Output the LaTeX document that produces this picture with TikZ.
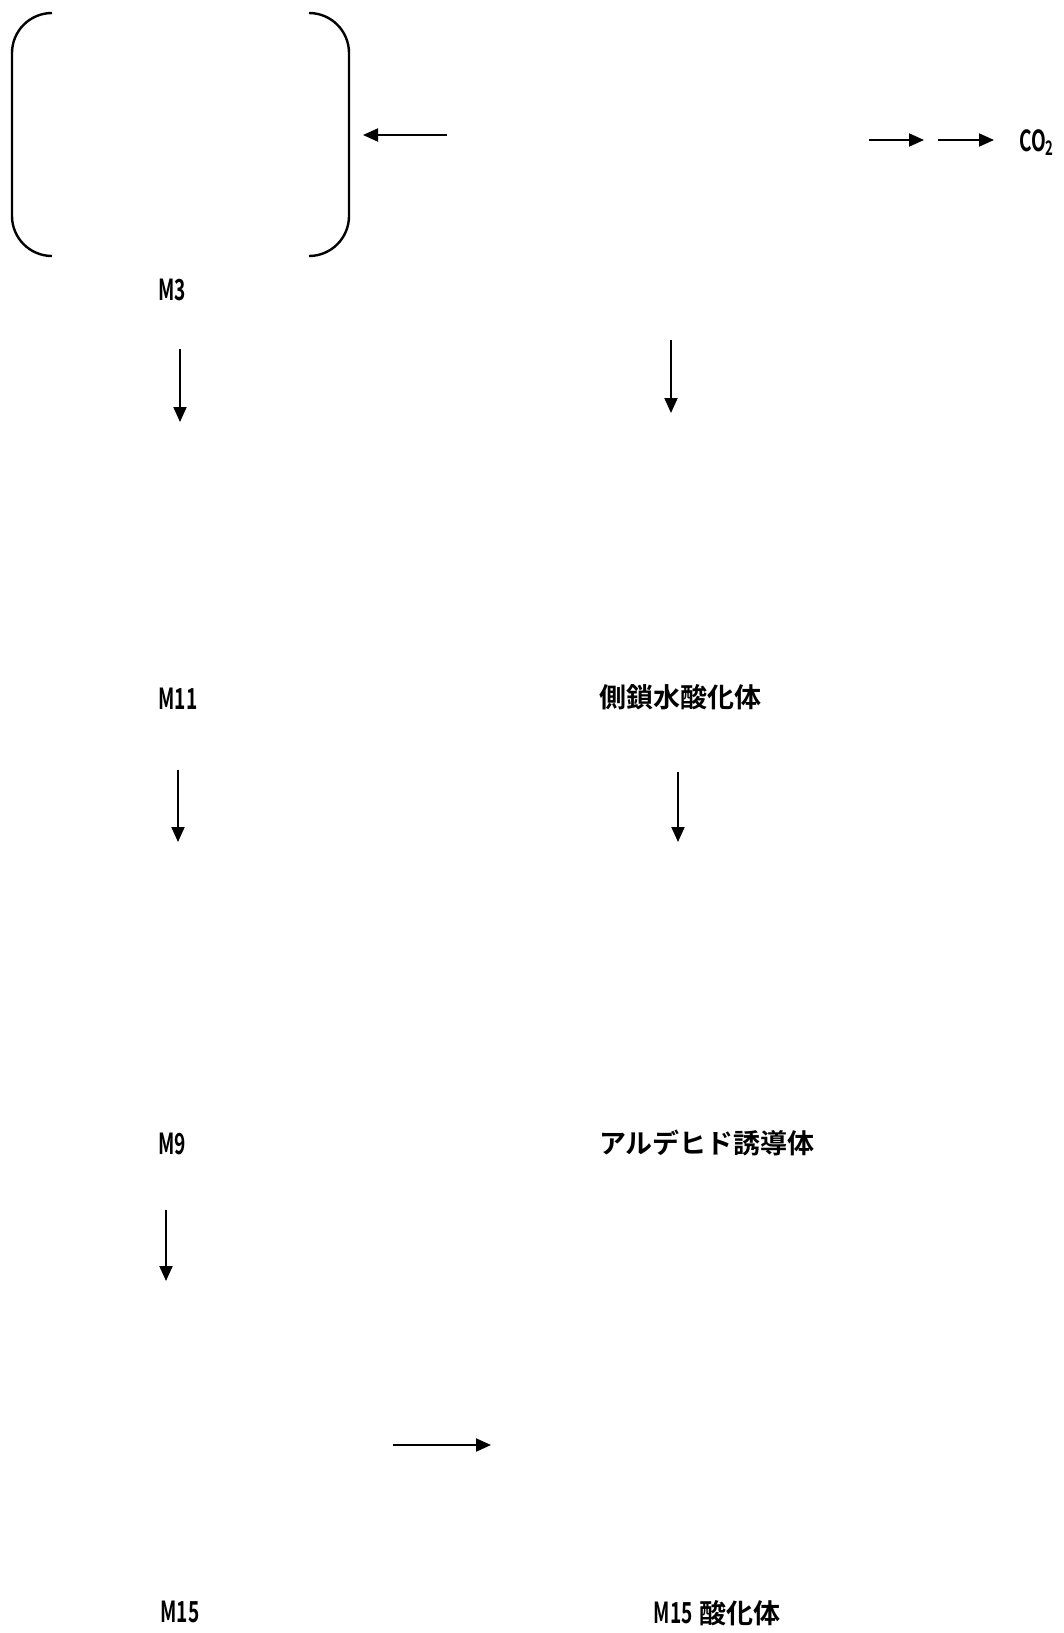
\documentclass[tikz,border=0pt]{standalone}
\usepackage{fontspec}
\newfontfamily\jp{Noto Sans CJK JP}[BoldFont={Noto Sans CJK JP Bold}]
\usetikzlibrary{arrows.meta}
\newcommand{\narrowtext}[1]{{\fontsize{29}{29}\selectfont\scalebox{0.66}[1]{#1}}}
\begin{document}
\begin{tikzpicture}[x=1pt,y=-1pt,
  lbl/.style={inner sep=0pt,font=\jp\bfseries\fontsize{27}{27}\selectfont},
  arr/.style={line width=2pt,-{Triangle[length=15pt,width=13pt]}},
  brk/.style={line width=2.4pt,rounded corners=40pt}]
\useasboundingbox (0,0) rectangle (1064,1633);
% bracket of M3
\draw[brk] (52,13) -- (12,13) -- (12,256) -- (52,256);
\draw[brk] (309,13) -- (349,13) -- (349,256) -- (309,256);
% labels
\node[lbl] (m3) at (172,290) {\narrowtext{M3}};
\node[lbl] (m11) at (178,699) {\narrowtext{M11}};
\node[lbl] (m9) at (172,1144) {\narrowtext{M9}};
\node[lbl] (m15) at (180,1612) {\narrowtext{M15}};
\node[lbl] (sh) at (680,697) {側鎖水酸化体};
\node[lbl] (al) at (707,1143) {アルデヒド誘導体};
\node[lbl] (m15o) at (717,1613) {\narrowtext{M15} 酸化体};
\node[lbl,anchor=west] (co2) at (1019,143) {\narrowtext{CO{\fontsize{20}{20}\selectfont\raisebox{-4pt}{2}}}};
% arrow end points
\coordinate (a1s) at (447,135); \coordinate (a1e) at (363,135);
\coordinate (a2s) at (869,140); \coordinate (a2e) at (924,140);
\coordinate (a3s) at (938,140); \coordinate (a3e) at (994,140);
\coordinate (d1s) at (180,349); \coordinate (d1e) at (180,422);
\coordinate (d2s) at (671,340); \coordinate (d2e) at (671,413);
\coordinate (d3s) at (178,770); \coordinate (d3e) at (178,842);
\coordinate (d4s) at (678,772); \coordinate (d4e) at (678,842);
\coordinate (d5s) at (166,1210); \coordinate (d5e) at (166,1281);
\coordinate (h1s) at (393,1445); \coordinate (h1e) at (491,1445);
% arrows
\draw[arr] (a1s) -- (a1e);
\draw[arr] (a2s) -- (a2e);
\draw[arr] (a3s) -- (a3e);
\draw[arr] (d1s) -- (d1e);
\draw[arr] (d2s) -- (d2e);
\draw[arr] (d3s) -- (d3e);
\draw[arr] (d4s) -- (d4e);
\draw[arr] (d5s) -- (d5e);
\draw[arr] (h1s) -- (h1e);
\end{tikzpicture}
\end{document}
